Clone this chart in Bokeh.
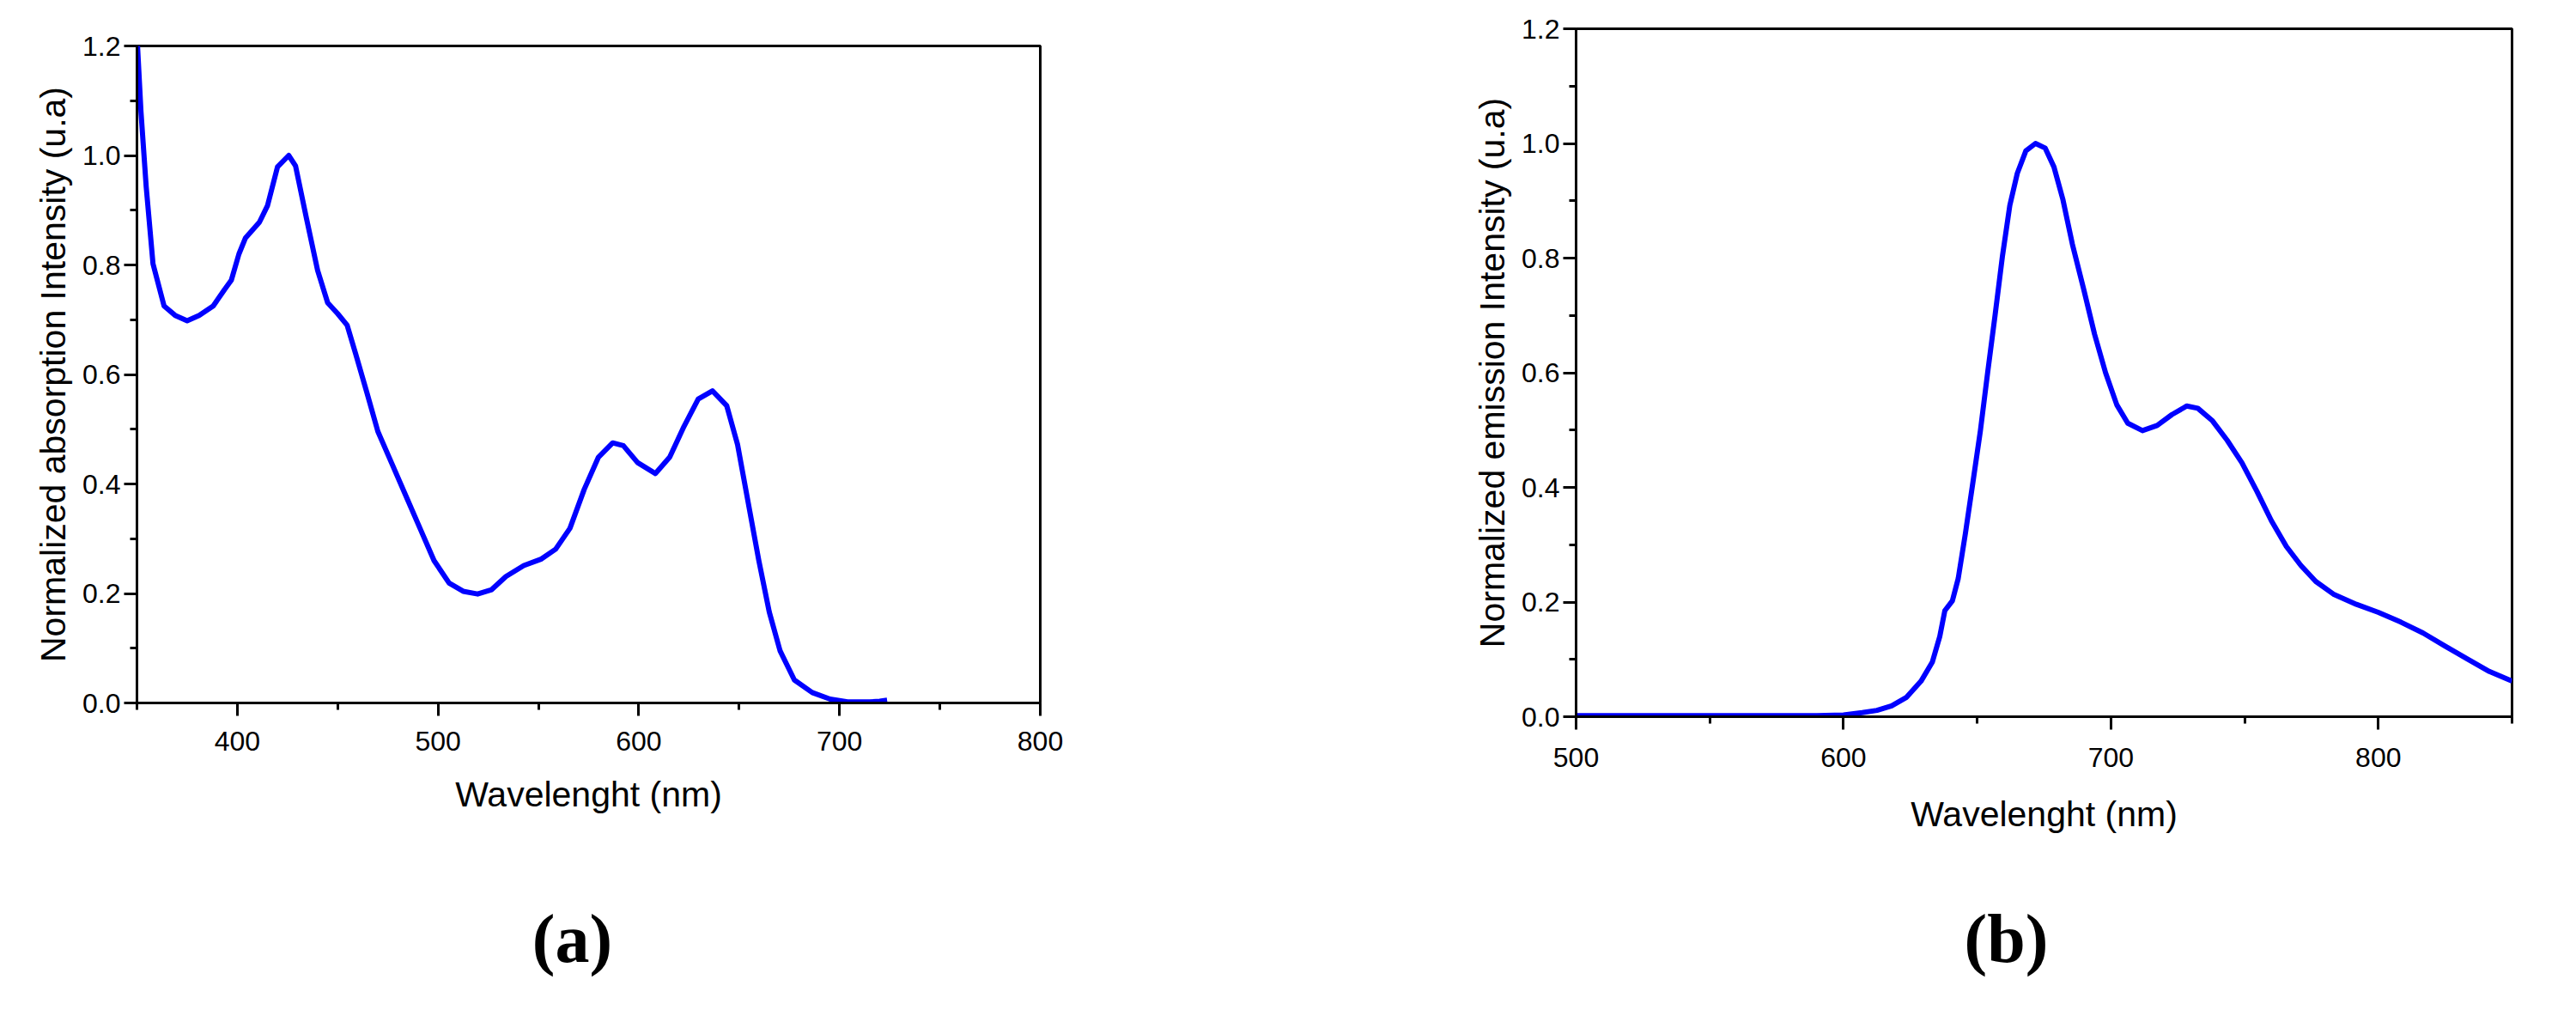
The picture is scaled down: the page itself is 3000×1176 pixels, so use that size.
from bokeh.plotting import figure
from bokeh.layouts import row, column
from bokeh.models import FixedTicker, Range1d, Label
from bokeh.embed import file_html
from bokeh.resources import INLINE

# ---------------- data ----------------
abs_wavelength = [350, 352, 354.6, 358, 363.5, 369, 375, 381, 388, 393.6, 397, 400.8, 404, 411,
                  415, 420, 425.6, 429, 434.5, 440, 445, 450, 454.7, 459, 464.6, 470, 477, 484,
                  491, 498, 505.5, 512.5, 519.7, 526.7, 533.8, 542.7, 551.5, 558.6, 565.7, 572.8,
                  579.9, 587, 592.3, 599.4, 608.3, 615.4, 622.5, 629.6, 636.7, 643.8, 649.2, 654.5,
                  659.8, 665, 670.4, 677.5, 686.4, 695.3, 704, 715, 720, 723.7]
abs_intensity = [1.22, 1.08, 0.943, 0.802, 0.725, 0.708, 0.698, 0.708, 0.725, 0.755, 0.772, 0.82,
                 0.849, 0.878, 0.908, 0.979, 1.0, 0.981, 0.884, 0.79, 0.731, 0.711, 0.69, 0.637,
                 0.566, 0.496, 0.437, 0.378, 0.319, 0.26, 0.219, 0.204, 0.199, 0.207, 0.231, 0.251,
                 0.263, 0.281, 0.319, 0.39, 0.449, 0.475, 0.47, 0.439, 0.419, 0.449, 0.505, 0.555,
                 0.57, 0.543, 0.472, 0.366, 0.26, 0.166, 0.095, 0.042, 0.019, 0.007, 0.002, 0.002,
                 0.003, 0.005]

em_wavelength = [500, 550, 590, 600, 607, 612.5, 618, 623.6, 629, 633.2, 636, 637.9, 640.7, 642.9,
                 645.6, 648.4, 651.2, 653.9, 656.7, 659.4, 662.2, 665, 668.2, 671.8, 675.4, 678.7,
                 682, 685.6, 689.8, 693.9, 698, 702.2, 706.3, 711.8, 717.3, 722.8, 728.4, 732.5,
                 738, 743.5, 749, 754.6, 760, 765.6, 771, 776.6, 783.5, 791.8, 800, 808.4, 816.7,
                 825, 833.2, 841.5, 850]
em_intensity = [0.002, 0.002, 0.002, 0.003, 0.007, 0.011, 0.019, 0.034, 0.062, 0.095, 0.14, 0.185,
                0.202, 0.241, 0.32, 0.409, 0.499, 0.6, 0.701, 0.802, 0.892, 0.948, 0.987, 1.0,
                0.992, 0.959, 0.903, 0.824, 0.746, 0.667, 0.6, 0.544, 0.512, 0.499, 0.508, 0.527,
                0.542, 0.538, 0.516, 0.482, 0.443, 0.393, 0.342, 0.297, 0.264, 0.236, 0.213, 0.196,
                0.182, 0.165, 0.146, 0.123, 0.101, 0.079, 0.062]

abs_x_major = [400, 500, 600, 700, 800]
abs_x_minor = [350, 450, 550, 650, 750]
em_x_major = [500, 600, 700, 800]
em_x_minor = [550, 650, 750, 850]
y_major = [0.0, 0.2, 0.4, 0.6, 0.8, 1.0, 1.2]
y_minor = [0.1, 0.3, 0.5, 0.7, 0.9, 1.1]
y_labels = {0.0: "0.0", 0.2: "0.2", 0.4: "0.4", 0.6: "0.6", 0.8: "0.8", 1.0: "1.0", 1.2: "1.2"}

x_title = "Wavelenght (nm)"
abs_y_title = "Normalized absorption Intensity (u.a)"
em_y_title = "Normalized emission Intensity (u.a)"
tags = ["(a)", "(b)"]

SANS = "Liberation Sans"
SERIF = "Liberation Serif"
BLUE = "#0000ff"


def make_panel(width, height, xr, xmaj, xmin, ytitle, borders, tick_gap, title_gap):
    left, right, top, bottom = borders
    p = figure(width=width, height=height, x_range=Range1d(*xr), y_range=Range1d(0, 1.2),
               output_backend="svg", toolbar_location=None,
               min_border_left=left, min_border_right=right,
               min_border_top=top, min_border_bottom=bottom)
    p.xgrid.visible = False
    p.ygrid.visible = False
    p.outline_line_color = "black"
    p.outline_line_width = 3
    p.outline_line_alpha = 1
    p.background_fill_color = "white"
    p.border_fill_color = "white"

    p.xaxis.ticker = FixedTicker(ticks=xmaj, minor_ticks=xmin)
    p.yaxis.ticker = FixedTicker(ticks=y_major, minor_ticks=y_minor)
    p.yaxis.major_label_overrides = y_labels
    for ax in (p.xaxis[0], p.yaxis[0]):
        ax.axis_line_width = 3
        ax.axis_line_color = "black"
        ax.major_tick_line_width = 3
        ax.minor_tick_line_width = 3
        ax.major_tick_out = 15
        ax.major_tick_in = 0
        ax.minor_tick_out = 8
        ax.minor_tick_in = 0
        ax.major_label_text_font = SANS
        ax.major_label_text_font_size = "32px"
        ax.major_label_text_color = "black"
        ax.axis_label_text_font = SANS
        ax.axis_label_text_font_size = "41px"
        ax.axis_label_text_font_style = "normal"
        ax.axis_label_text_color = "black"
    p.xaxis.axis_label = x_title
    p.yaxis.axis_label = ytitle
    p.xaxis.major_label_standoff = tick_gap
    p.yaxis.major_label_standoff = 4
    p.xaxis.axis_label_standoff = title_gap
    p.yaxis.axis_label_standoff = 8
    return p


def make_tag(width, height, border_left, border_right, tag, cx, cy):
    # a blank strip below each chart that carries the bold panel letter; its ranges are in pixels
    frame_w = width - border_left - border_right
    t = figure(width=width, height=height, x_range=Range1d(0, frame_w), y_range=Range1d(0, height),
               output_backend="svg", toolbar_location=None, x_axis_location=None,
               y_axis_location=None, min_border_left=border_left, min_border_right=border_right,
               min_border_top=0, min_border_bottom=0)
    t.grid.visible = False
    t.outline_line_color = None
    t.background_fill_color = "white"
    t.border_fill_color = "white"
    t.add_layout(Label(x=cx, y=cy, text=tag, text_align="center", text_baseline="middle",
                       text_font=SERIF, text_font_style="bold", text_font_size="80px",
                       text_color="black"))
    return t


# left panel: frame 167..1219 x 61..826 on the page
pa = make_panel(1400, 993, (350, 800), abs_x_major, abs_x_minor, abs_y_title,
                (159, 189, 53, 175), 18, 25)
pa.line(abs_wavelength, abs_intensity, line_width=6, color=BLUE, line_join="round")
ta = make_tag(1400, 167, 159, 189, tags[0], 507, 68)

# right panel: frame 1843..2933 x 41..842 on the page
pb = make_panel(1584, 1009, (500, 850), em_x_major, em_x_minor, em_y_title,
                (435, 59, 33, 175), 21, 29)
pb.line(em_wavelength, em_intensity, line_width=6, color=BLUE, line_join="round")
tb = make_tag(1584, 151, 435, 59, tags[1], 501, 68)

layout = row(column(column(pa), column(ta), spacing=0),
             column(column(pb), column(tb), spacing=0), spacing=0)
open("out.html", "w").write(file_html(layout, INLINE))
